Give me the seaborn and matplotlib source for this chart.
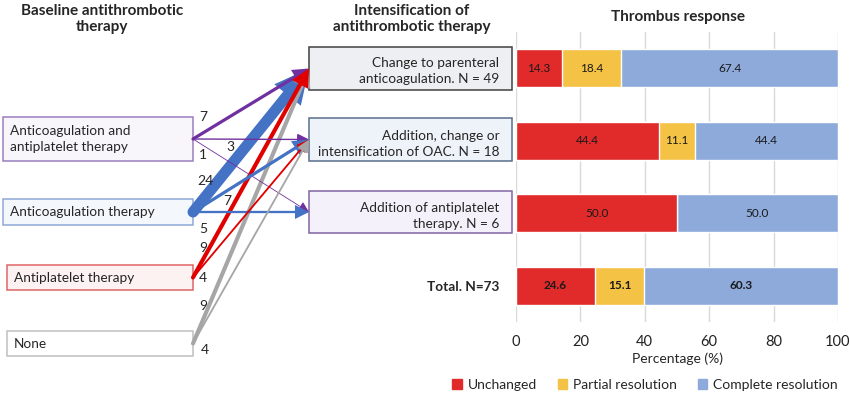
import matplotlib
matplotlib.use("Agg")
import matplotlib.pyplot as plt
import seaborn as sns
import numpy as np
from matplotlib.patches import Rectangle, FancyArrowPatch, Patch

sns.set_theme(style="white")
plt.rcParams['font.family'] = ['Lato', 'DejaVu Sans']

# ---- data ----
baseline = ["Anticoagulation and\nantiplatelet therapy", "Anticoagulation therapy",
            "Antiplatelet therapy", "None"]
intensification = ["Change to parenteral\nanticoagulation. N = 49",
                   "Addition, change or\nintensification of OAC. N = 18",
                   "Addition of antiplatelet\ntherapy. N = 6"]
categories = intensification + ["Total. N=73"]

# flows: (source, target, patients)
flow_src = [1, 0, 3, 2, 0, 0, 1, 1, 2, 3]
flow_dst = [0, 0, 0, 0, 1, 2, 1, 2, 1, 1]
flow_n = [24, 7, 9, 9, 3, 1, 7, 5, 4, 4]

unchanged = [14.3, 44.4, 50.0, 24.6]
partial = [18.4, 11.1, 0.0, 15.1]
complete = [67.4, 44.4, 50.0, 60.3]
series_names = ["Unchanged", "Partial resolution", "Complete resolution"]

# ---- styles / layout (pixels) ----
src_colors = ["#7030A0", "#4472C4", "#E00000", "#A6A6A6"]
src_edge = ["#9B7FC0", "#8FA8D8", "#E06666", "#C0C0C0"]
src_face = ["#F8F5FB", "#F4F7FC", "#FDF2F2", "#FFFFFF"]
src_boxes = [(3, 117, 190, 44), (3, 199, 190, 26), (7, 265, 186, 25), (7, 331, 186, 25)]
dst_edge = ["#404040", "#5A6E8C", "#8064A2"]
dst_face = ["#EEEFF3", "#EEF2F9", "#F5F1FA"]
dst_boxes = [(309, 47, 203, 43), (309, 118, 203, 43), (309, 191, 203, 42)]
label_off = [(12, -31), (10, -22), (10, -38), (10, -30), (37, 8),
             (10, 16), (34, -11), (10, 17), (10, 0), (12, 7)]
bar_colors = ["#E12A2A", "#F4C245", "#8DAADB"]

fig = plt.figure(figsize=(8.5, 3.97), dpi=100)
ax0 = fig.add_axes([0, 0, 1, 1])
ax0.set_xlim(0, 850)
ax0.set_ylim(397, 0)
ax0.axis("off")
ax0.set_zorder(0)

# headers
ax0.text(102, 19, "Baseline antithrombotic\ntherapy", ha="center", va="center",
         fontsize=11, fontweight="bold", linespacing=1.25)
ax0.text(412, 19, "Intensification of\nantithrombotic therapy", ha="center", va="center",
         fontsize=11, fontweight="bold", linespacing=1.25)
ax0.text(678, 17, "Thrombus response", ha="center", va="center",
         fontsize=11, fontweight="bold")

# boxes
for i, (x, y, w, h) in enumerate(src_boxes):
    ax0.add_patch(Rectangle((x, y), w, h, facecolor=src_face[i], edgecolor=src_edge[i], lw=1.1))
    ax0.text(x + 7, y + h / 2, baseline[i], ha="left", va="center", fontsize=9.8, linespacing=1.4)
for i, (x, y, w, h) in enumerate(dst_boxes):
    ax0.add_patch(Rectangle((x, y), w, h, facecolor=dst_face[i], edgecolor=dst_edge[i], lw=1.1))

# arrows
for k in range(len(flow_n)):
    sx, sy, sw, sh = src_boxes[flow_src[k]]
    dx, dy, dw, dh = dst_boxes[flow_dst[k]]
    start = (sx + sw, sy + sh / 2)
    end = (dx, dy + dh / 2)
    n = flow_n[k]
    lw = max(n * 0.33, 0.6)
    arr = FancyArrowPatch(start, end, arrowstyle="-|>,head_length=0.9,head_width=0.45",
                          mutation_scale=7 + n * 0.25, lw=lw, color=src_colors[flow_src[k]],
                          shrinkA=0, shrinkB=0, capstyle="round", joinstyle="miter")
    ax0.add_patch(arr)
    ox, oy = label_off[k]
    ax0.text(start[0] + ox, start[1] + oy, str(n), ha="center", va="center", fontsize=10)

# ---- stacked bar chart ----
ax = fig.add_axes([516 / 850, (397 - 322) / 397, (838 - 516) / 850, (322 - 32) / 397])
ax.set_zorder(1)
ax.patch.set_alpha(0)

cum1 = np.array(unchanged)
cum2 = cum1 + np.array(partial)
cum3 = cum2 + np.array(complete)
for vals, c in zip([cum3, cum2, cum1], bar_colors[::-1]):
    sns.barplot(x=vals, y=categories, color=c, orient="h", width=0.53, ax=ax,
                saturation=1, zorder=2)

lefts = [np.zeros(4), cum1, cum2]
for s, vals in enumerate([unchanged, partial, complete]):
    for i, v in enumerate(vals):
        if v <= 0:
            continue
        ax.text(lefts[s][i] + v / 2, i, f"{v:.1f}", ha="center", va="center",
                fontsize=8.5, color="#1a1a1a",
                fontweight="bold" if i == 3 else "normal", zorder=3)

ax.set_xlim(0, 100)
ax.set_ylim(3.5, -0.5)
ax.set_xticks(range(0, 101, 20))
ax.grid(axis="x", color="#D9D9D9", lw=1, zorder=0)
ax.set_axisbelow(True)
for sp in ax.spines.values():
    sp.set_visible(False)
ax.tick_params(axis="x", length=0, labelsize=10.5, pad=9, labelcolor="#222222")
ax.tick_params(axis="y", length=0, labelsize=9.8, pad=12)
for t in ax.get_yticklabels():
    t.set_linespacing(1.4)
ax.get_yticklabels()[3].set_fontweight("bold")
ax.set_xlabel("Percentage (%)", fontsize=10, labelpad=3)
ax.set_ylabel("")

handles = [Patch(color=c) for c in bar_colors]
fig.legend(handles, series_names, loc="center", bbox_to_anchor=(645 / 850, 1 - 385 / 397),
           ncol=3, frameon=False, fontsize=10, handlelength=0.7, handleheight=0.7,
           handletextpad=0.4, columnspacing=1.5)

fig.savefig("out.png", dpi=100)
